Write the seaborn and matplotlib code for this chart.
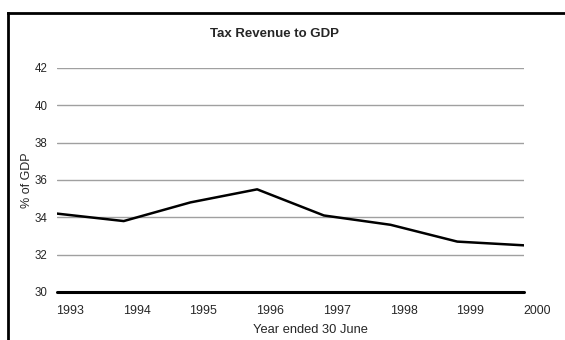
import matplotlib
matplotlib.use("Agg")
import matplotlib.pyplot as plt
import matplotlib.transforms as mtransforms
from matplotlib.lines import Line2D
import seaborn as sns
import pandas as pd

# Tax revenue as a share of GDP, years ended 30 June
years = ["1993", "1994", "1995", "1996", "1997", "1998", "1999", "2000"]
tax_to_gdp = [34.2, 33.8, 34.8, 35.5, 34.1, 33.6, 32.7, 32.5]
y_ticks = [30, 32, 34, 36, 38, 40, 42]

sns.set_style("white")
plt.rcParams["font.family"] = ["Liberation Sans", "DejaVu Sans"]

df = pd.DataFrame({"pos": range(len(years)), "value": tax_to_gdp})

W, H = 565, 340
L, R, T, B = 57, 524, 68, 292

fig = plt.figure(figsize=(W / 100, H / 100), dpi=100)
ax = fig.add_axes([L / W, 1 - B / H, (R - L) / W, (B - T) / H])

for t in y_ticks[1:]:
    ax.axhline(t, color="#a0a0a0", lw=1.0, zorder=1)

sns.lineplot(data=df, x="pos", y="value", color="black", lw=1.8, ax=ax, zorder=3)
ax.axhline(30, color="black", lw=2.2, zorder=4, clip_on=False)

ax.set_xlim(0, len(years) - 1)
ax.set_ylim(30, 42)
ax.set_yticks(y_ticks)
ax.set_yticklabels([str(t) for t in y_ticks], fontsize=8.3)
ax.set_xticks(range(len(years)))
ax.set_xticklabels(years, fontsize=8.9)
ax.tick_params(axis="both", length=0)
ax.tick_params(axis="y", pad=7)
ax.tick_params(axis="x", pad=9)

# shift year labels to the right of their points
shift = mtransforms.ScaledTranslation(13 / 100, 0, fig.dpi_scale_trans)
for lbl in ax.get_xticklabels():
    lbl.set_transform(lbl.get_transform() + shift)

for s in ax.spines.values():
    s.set_visible(False)

ax.set_xlabel("Year ended 30 June", fontsize=9.3)
ax.xaxis.set_label_coords((310 - L) / (R - L), -(324 - B) / (B - T))
ax.set_ylabel("% of GDP", fontsize=9)
ax.yaxis.set_label_coords(-(L - 33) / (R - L), (B - 180) / (B - T))

fig.text(275 / W, 1 - 34 / H, "Tax Revenue to GDP", ha="center", va="center",
         fontsize=9.5, fontweight="bold")

# outer frame, top and left edges
fig.add_artist(Line2D([7.5 / W, 1.0], [1 - 12.5 / H] * 2, color="black", lw=2,
                      transform=fig.transFigure, solid_capstyle="projecting"))
fig.add_artist(Line2D([7.5 / W] * 2, [0, 1 - 12.5 / H], color="black", lw=2,
                      transform=fig.transFigure, solid_capstyle="projecting"))

fig.savefig("out.png", dpi=100)
